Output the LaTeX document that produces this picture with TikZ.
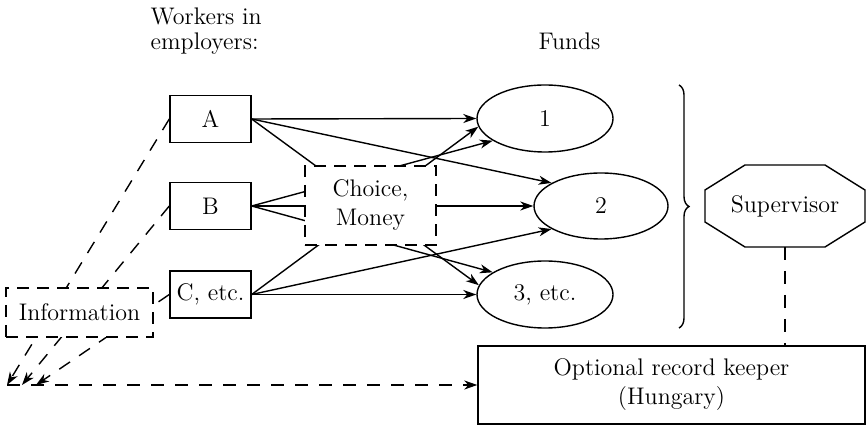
\documentclass[tikz,border=0pt]{standalone}
\usetikzlibrary{arrows.meta,shapes.geometric,decorations.pathreplacing}
\begin{document}
\begin{tikzpicture}[x=0.5pt,y=-0.5pt,
  every node/.style={font=\fontsize{12}{14.5}\selectfont},
  line width=0.7pt,
  lbl/.style={inner sep=0pt,anchor=base west},
  box/.style={draw,minimum width=40.5pt,minimum height=23.5pt,inner sep=1pt},
  fund/.style={draw,ellipse,minimum width=68pt,minimum height=33.5pt,inner sep=0pt},
  dbox/.style={draw,dash pattern=on 6pt off 4pt,fill=white,inner sep=1pt},
  flow/.style={-{Stealth[length=6.5pt,width=4.5pt,inset=2pt]}},
  infoline/.style={dash pattern=on 6.5pt off 5.5pt,-{Stealth[length=6.5pt,width=4.5pt,inset=2pt]}},
]
\useasboundingbox (0,0) rectangle (867,426);

% headings
\node[lbl] (w1) at (150,25) {Workers in};
\node[lbl] (w2) at (150,50) {employers:};
\node[lbl] (funds) at (538,50) {Funds};

% employers
\node[box] (A) at (210.5,119) {A};
\node[box] (B) at (210.5,206) {B};
\node[box] (C) at (210.5,294.5) {C, etc.};

% funds
\node[fund] (e1) at (545,118.5) {1};
\node[fund,minimum width=67pt,minimum height=33pt] (e2) at (601,206) {2};
\node[fund] (e3) at (545,294.5) {3, etc.};

% flows employer -> fund
\draw[flow] (A.east) -- (e1.west);
\draw[flow] (A.east) -- (e2.155);
\draw[flow] (A.east) -- (e3.172);
\draw[flow] (B.east) -- (e1.203);
\draw[flow] (B.east) -- (e2.west);
\draw[flow] (B.east) -- (e3.157);
\draw[flow] (C.east) -- (e1.187);
\draw[flow] (C.east) -- (e2.205);
\draw[flow] (C.east) -- (e3.west);

% choice box on top
\node[dbox,minimum width=65.5pt,minimum height=39.5pt,align=center] (choice) at (370.5,205.5) {Choice,\\Money};

% information lines
\coordinate (p1) at (7,385);
\coordinate (p2) at (22,385);
\coordinate (p3) at (36,385);
\draw[infoline] (A.west) -- (p1);
\draw[infoline] (B.west) -- (p2);
\draw[infoline] (C.west) -- (p3);
\node[dbox,minimum width=73.5pt,minimum height=24.5pt] (info) at (79.5,312.5) {Information};

% record keeper
\node[draw,minimum width=193.5pt,minimum height=39pt,align=center,inner sep=1pt] (keeper) at (671.5,385) {Optional record keeper\\(Hungary)};
\draw[infoline] (p1) -- (keeper.west);

% brace
\coordinate (bt) at (679,85);
\coordinate (bb) at (679,328);
\draw[decorate,decoration={brace,amplitude=5pt}] (bt) -- (bb);

% supervisor
\node[inner sep=0pt] (sup) at (785,206) {Supervisor};
\draw (745,165) -- (825,165) -- (865,190) -- (865,222) -- (825,247) -- (745,247) -- (705,222) -- (705,190) -- cycle;
\coordinate (supb) at (785,247);
\draw[dash pattern=on 6.5pt off 5.5pt] (supb) -- (supb |- keeper.north);
\end{tikzpicture}
\end{document}
